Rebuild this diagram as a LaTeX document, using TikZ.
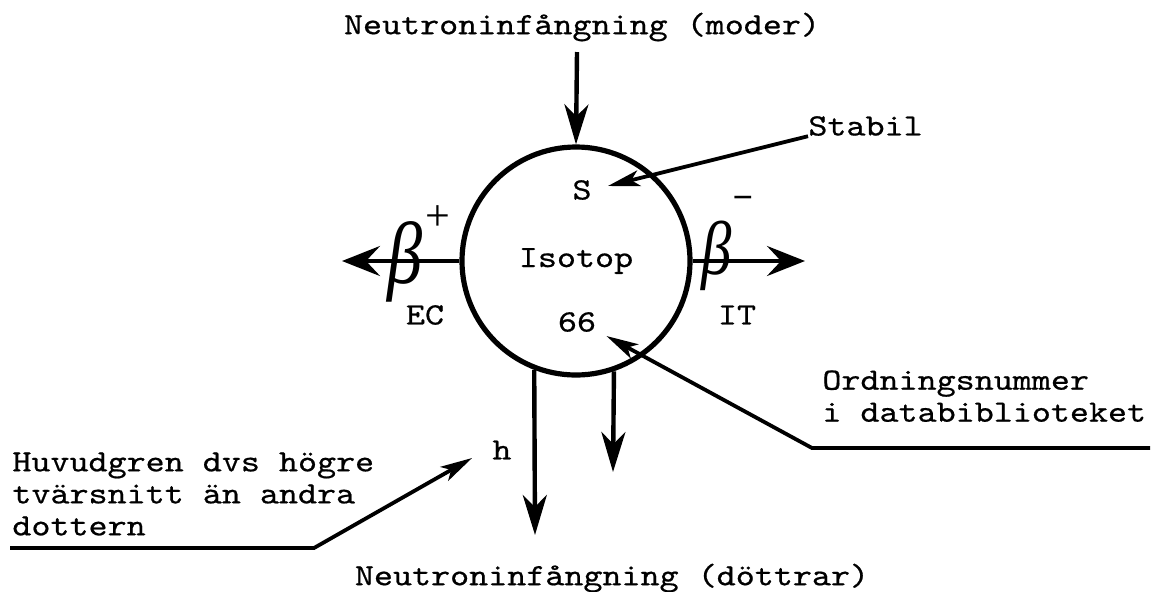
\documentclass[tikz,border=0pt]{standalone}
\usepackage{fontspec}
\newfontfamily\tw{lmmono10-regular.otf}[FakeStretch=1.17, FakeBold=0.6]
\newfontfamily\grk{Liberation Serif}
\usetikzlibrary{arrows.meta}

\begin{document}
\begin{tikzpicture}[x=0.5pt,y=-0.5pt]
    \tikzset{txt/.style = {font=\tw\fontsize{15.5}{16}\selectfont,
        inner sep = 0pt},
      arr/.style  = {line width=2.2pt, -{Stealth[length=20pt,width=12pt,inset=6pt]}},
      harr/.style = {arr, -{Stealth[length=19pt,width=15pt,inset=7pt]}},
      ptr/.style  = {line width=1.9pt, -{Stealth[length=16pt,width=8pt,inset=4pt]}},
      betalbl/.style = {font=\grk\itshape\fontsize{44}{44}\selectfont, inner sep=0pt}}
    \useasboundingbox (0,0) rectangle (1158,591);
    \node[txt, circle, draw, line width=2.6pt, minimum size=114pt] (iso) at (576,261) {Isotop};
    \node[txt] (s) at (582,190) {S};
    \node[txt] (num) at (577,322) {66};
    \node[txt] (ec) at (425,315) {EC};
    \node[txt] (it) at (737,315) {IT};
    \node[txt] (h) at (502,450) {h};
    \node[txt] (moder) at (582,27) {Neutroninfångning (moder)};
    \node[txt] (dott) at (612,578) {Neutroninfångning (döttrar)};
    \node[txt, anchor=west] (stabil) at (808,126) {Stabil};
    \node[txt, align=left, anchor=north west] (ord) at (822,370) {Ordningsnummer\\i databiblioteket};
    \node[txt, align=left, anchor=north west] (huvud) at (12,452) {Huvudgren dvs högre\\tvärsnitt än andra\\dottern};
    % handwritten beta signs
    \node[betalbl] (bplus) at (405,262) {\scalebox{0.8}[1]{β}};
    \node[betalbl, font=\grk\fontsize{22}{22}\selectfont] (plus) at (438,218) {+};
    \node[betalbl, font=\grk\itshape\fontsize{38}{38}\selectfont] (bminus) at (717,256) {\scalebox{0.8}[1]{β}};
    \node[betalbl, font=\grk\bfseries\fontsize{18}{18}\selectfont] (minus) at (743,203) {−};
    % free ends
    \coordinate (mtop) at (577,52);
    \coordinate (left) at (342,261);
    \coordinate (right) at (805,261);
    \coordinate (hend) at (535,535);
    \coordinate (send) at (613,472);
    \coordinate (ordA) at (1150,448);
    \coordinate (ordB) at (812,448);
    \coordinate (hA) at (10,548);
    \coordinate (hB) at (314,548);
    % branches
    \draw[arr] (mtop) -- (iso.north);
    \draw[harr] (iso.west) -- (left);
    \draw[harr] (iso.east) -- (right);
    \draw[arr] (iso.-111) -- (hend);
    \draw[arr] (iso.-71) -- (send);
    % pointers
    \draw[ptr] (stabil.south west) -- ([xshift=8pt,yshift=2pt]s.east);
    \draw[ptr] (ordA) -- (ordB) -- ([xshift=5pt,yshift=-7pt]num.east);
    \draw[ptr] (hA) -- (hB) -- ([xshift=-10pt,yshift=-4pt]h.west);
  \end{tikzpicture}
\end{document}
